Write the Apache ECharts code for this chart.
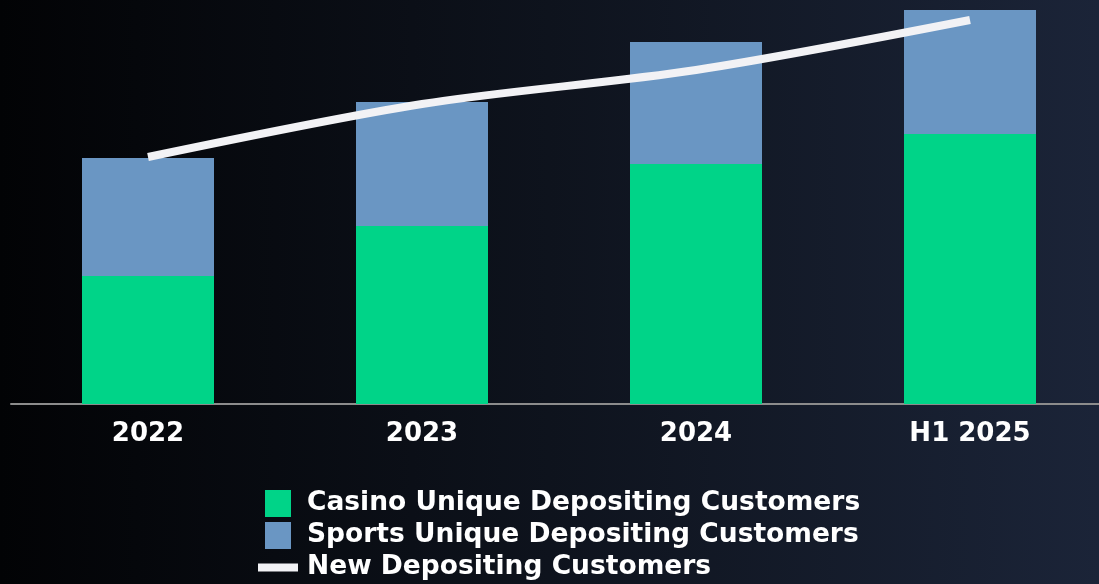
<!DOCTYPE html>
<html>
<head>
<meta charset="utf-8">
<script src="https://cdn.jsdelivr.net/npm/echarts@6/dist/echarts.min.js"></script>
<style>
  html, body { margin: 0; padding: 0; }
  #chart { width: 1099px; height: 584px; }
</style>
</head>
<body>
<div id="chart"></div>
<script>
// Customer counts per period (relative units)
const categories = ['2022', '2023', '2024', 'H1 2025'];
const casinoCustomers = [128, 178, 240, 270];
const sportsCustomers = [118, 124, 122, 124];
const newDepositing = [247, 300, 334, 384];

const FONT = 'DejaVu Sans, Verdana, sans-serif';
const GREEN = '#00D488';
const BLUE = '#6A96C3';
const WHITE = '#F2F2F5';

const chart = echarts.init(document.getElementById('chart'), null, { renderer: 'canvas' });

chart.setOption({
  backgroundColor: new echarts.graphic.LinearGradient(0, 0, 1, 0, [
    { offset: 0, color: '#020305' },
    { offset: 0.5, color: '#0E131D' },
    { offset: 1, color: '#1B2438' }
  ]),
  animation: false,
  // the plot runs past the right edge so the last bar sits where it should
  grid: { left: 11, width: 1096, top: 4, height: 400, containLabel: false, outerBoundsMode: 'none' },
  legend: {
    orient: 'vertical',
    left: 253,
    top: 485,
    height: 200,
    itemWidth: 40,
    itemHeight: 27,
    itemGap: 5,
    symbolKeepAspect: true,
    textStyle: {
      color: '#FFFFFF', fontFamily: FONT, fontWeight: 'bold', fontSize: 26.5,
      padding: [0, 0, 0, 4]
    },
    data: [
      { name: 'Casino Unique Depositing Customers', icon: 'path://M0,0h26v27h-26z' },
      { name: 'Sports Unique Depositing Customers', icon: 'path://M0,0h26v27h-26z' },
      { name: 'New Depositing Customers', icon: 'path://M0,0h40v8h-40z' }
    ]
  },
  xAxis: {
    type: 'category',
    data: categories,
    axisLine: { show: true, lineStyle: { color: '#8C8C8C', width: 2 } },
    axisTick: { show: false },
    axisLabel: {
      color: '#FFFFFF', fontFamily: FONT, fontWeight: 'bold', fontSize: 26, margin: 17
    }
  },
  yAxis: [
    { type: 'value', min: 0, max: 400, show: false, splitLine: { show: false } },
    { type: 'value', min: 0, max: 400, show: false, splitLine: { show: false } }
  ],
  series: [
    {
      name: 'Casino Unique Depositing Customers',
      type: 'bar',
      stack: 'customers',
      barWidth: 132,
      itemStyle: { color: GREEN },
      data: casinoCustomers
    },
    {
      name: 'Sports Unique Depositing Customers',
      type: 'bar',
      stack: 'customers',
      barWidth: 132,
      itemStyle: { color: BLUE },
      data: sportsCustomers
    },
    {
      name: 'New Depositing Customers',
      type: 'line',
      yAxisIndex: 1,
      smooth: 0.3,
      symbol: 'none',
      z: 5,
      itemStyle: { color: WHITE },
      lineStyle: { color: WHITE, width: 8, cap: 'butt' },
      data: newDepositing
    }
  ]
});
</script>
</body>
</html>
